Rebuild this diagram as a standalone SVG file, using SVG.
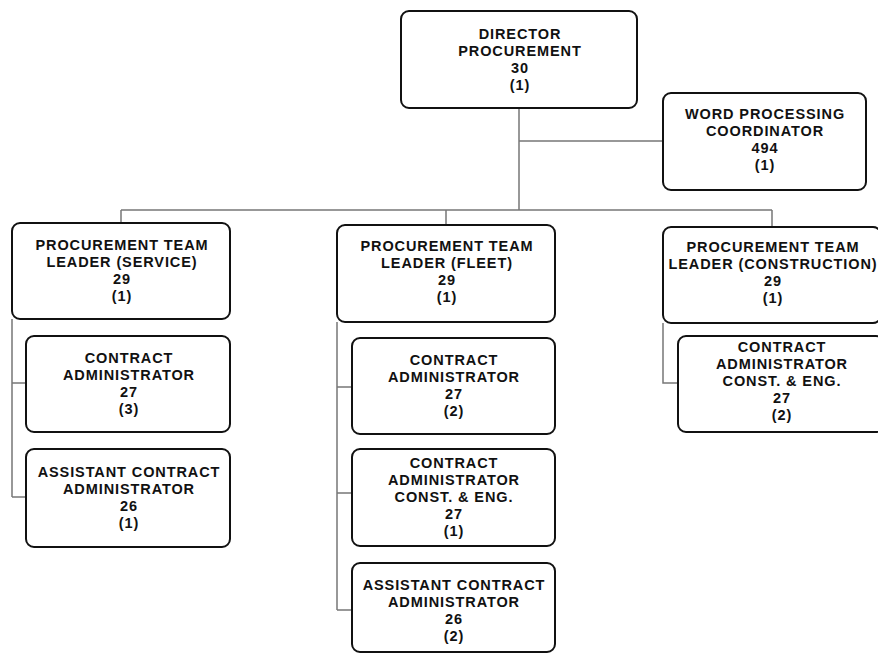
<svg xmlns="http://www.w3.org/2000/svg" width="878" height="656" viewBox="0 0 878 656">
<style>
.box{fill:#fff;stroke:#111;stroke-width:2}
.t{font-family:"Liberation Sans",Arial,sans-serif;font-weight:bold;font-size:14.5px;letter-spacing:0.9px;text-anchor:middle;fill:#111}
.c{fill:none;stroke:#777;stroke-width:1.5}
</style>
<rect width="878" height="656" fill="#fff"/>
<g id="connectors">
<path class="c" d="M519 108V210M519 141H663M121 210H772M121 210V223M446 210V225M772 210V227"/>
<path class="c" d="M12 319V497M12 383H26M12 497H26"/>
<path class="c" d="M337 322V610M337 387H352M337 493H352M337 610H352"/>
<path class="c" d="M663 323V383H678"/>
</g>
<g id="director">
<rect class="box" x="401" y="11" width="236" height="97" rx="8"/>
<text class="t" x="520" y="39">DIRECTOR</text>
<text class="t" x="520" y="56">PROCUREMENT</text>
<text class="t" x="520" y="73">30</text>
<text class="t" x="520" y="90">(1)</text>
</g>
<g id="word-processing">
<rect class="box" x="663" y="93" width="203" height="97" rx="8"/>
<text class="t" x="765" y="119">WORD PROCESSING</text>
<text class="t" x="765" y="136">COORDINATOR</text>
<text class="t" x="765" y="153">494</text>
<text class="t" x="765" y="170">(1)</text>
</g>
<g id="tl-service">
<rect class="box" x="12" y="223" width="218" height="96" rx="8"/>
<text class="t" x="122" y="250">PROCUREMENT TEAM</text>
<text class="t" x="122" y="267">LEADER (SERVICE)</text>
<text class="t" x="122" y="284">29</text>
<text class="t" x="122" y="301">(1)</text>
</g>
<g id="ca-service">
<rect class="box" x="26" y="336" width="204" height="96" rx="8"/>
<text class="t" x="129" y="363">CONTRACT</text>
<text class="t" x="129" y="380">ADMINISTRATOR</text>
<text class="t" x="129" y="397">27</text>
<text class="t" x="129" y="414">(3)</text>
</g>
<g id="aca-service">
<rect class="box" x="26" y="449" width="204" height="98" rx="8"/>
<text class="t" x="129" y="477">ASSISTANT CONTRACT</text>
<text class="t" x="129" y="494">ADMINISTRATOR</text>
<text class="t" x="129" y="511">26</text>
<text class="t" x="129" y="528">(1)</text>
</g>
<g id="tl-fleet">
<rect class="box" x="337" y="225" width="218" height="97" rx="8"/>
<text class="t" x="447" y="251">PROCUREMENT TEAM</text>
<text class="t" x="447" y="268">LEADER (FLEET)</text>
<text class="t" x="447" y="285">29</text>
<text class="t" x="447" y="302">(1)</text>
</g>
<g id="ca-fleet">
<rect class="box" x="352" y="338" width="203" height="96" rx="8"/>
<text class="t" x="454" y="365">CONTRACT</text>
<text class="t" x="454" y="382">ADMINISTRATOR</text>
<text class="t" x="454" y="399">27</text>
<text class="t" x="454" y="416">(2)</text>
</g>
<g id="cace-fleet">
<rect class="box" x="352" y="449" width="203" height="97" rx="8"/>
<text class="t" x="454" y="468">CONTRACT</text>
<text class="t" x="454" y="485">ADMINISTRATOR</text>
<text class="t" x="454" y="502">CONST. &amp; ENG.</text>
<text class="t" x="454" y="519">27</text>
<text class="t" x="454" y="536">(1)</text>
</g>
<g id="aca-fleet">
<rect class="box" x="352" y="563" width="203" height="89" rx="8"/>
<text class="t" x="454" y="590">ASSISTANT CONTRACT</text>
<text class="t" x="454" y="607">ADMINISTRATOR</text>
<text class="t" x="454" y="624">26</text>
<text class="t" x="454" y="641">(2)</text>
</g>
<g id="tl-construction">
<rect class="box" x="663" y="227" width="218" height="96" rx="8"/>
<text class="t" x="773" y="252">PROCUREMENT TEAM</text>
<text class="t" x="773" y="269">LEADER (CONSTRUCTION)</text>
<text class="t" x="773" y="286">29</text>
<text class="t" x="773" y="303">(1)</text>
</g>
<g id="cace-construction">
<rect class="box" x="678" y="336" width="206" height="96" rx="8"/>
<text class="t" x="782" y="352">CONTRACT</text>
<text class="t" x="782" y="369">ADMINISTRATOR</text>
<text class="t" x="782" y="386">CONST. &amp; ENG.</text>
<text class="t" x="782" y="403">27</text>
<text class="t" x="782" y="420">(2)</text>
</g>
</svg>
